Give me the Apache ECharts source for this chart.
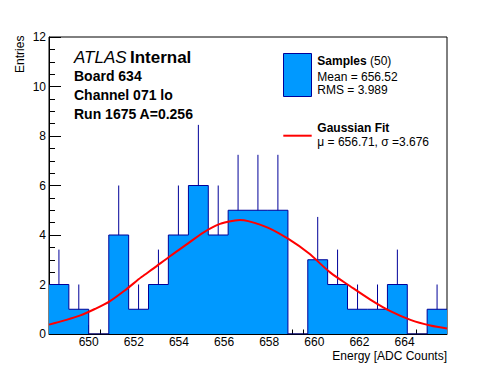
<!DOCTYPE html>
<html>
<head>
<meta charset="utf-8">
<script src="https://cdn.jsdelivr.net/npm/echarts@6/dist/echarts.min.js"></script>
<style>
html,body{margin:0;padding:0;background:#fff;}
#chart{width:496px;height:372px;}
</style>
</head>
<body>
<div id="chart"></div>
<script>
// ---- data ----
const binEdges = [648.24, 649.12, 650.00, 650.89, 651.77, 652.65, 653.53, 654.42, 655.30, 656.18,
                  657.06, 657.94, 658.83, 659.71, 660.59, 661.47, 662.36, 663.24, 664.12, 665.00, 665.88];
const counts = [2, 1, 0, 4, 1, 2, 4, 6, 4, 5, 5, 5, 0, 3, 2, 1, 1, 2, 0, 1];
const errors = [1.41, 1, 0, 2, 1, 1.41, 2, 2.45, 2, 2.24, 2.24, 2.24, 0, 1.73, 1.41, 1, 1, 1.41, 0, 1];
const fitX = [648.24, 648.93, 649.60, 650.27, 650.93, 651.60, 652.34, 652.86, 653.60, 654.34, 655.08,
              655.82, 656.48, 656.70, 657.07, 657.96, 658.85, 659.74, 660.70, 661.59, 662.48, 663.37,
              664.26, 665.14, 665.88];
const fitY = [0.38, 0.55, 0.74, 1.01, 1.32, 1.76, 2.30, 2.64, 3.14, 3.62, 4.10,
              4.45, 4.59, 4.61, 4.56, 4.29, 3.84, 3.27, 2.49, 1.93, 1.39, 0.92,
              0.57, 0.34, 0.22];
const xTickLabels = [650, 652, 654, 656, 658, 660, 662, 664];
const xMinorTicks = [648.5, 649, 649.5, 650, 650.5, 651, 651.5, 652, 652.5, 653, 653.5, 654, 654.5, 655,
                     655.5, 656, 656.5, 657, 657.5, 658, 658.5, 659, 659.5, 660, 660.5, 661, 661.5, 662,
                     662.5, 663, 663.5, 664, 664.5, 665, 665.5];
const xRange = [648.24, 665.88];
const yRange = [0, 12];
const yStep = 2;
const sampleCount = 50;
const meanText = 'Mean = 656.52';
const rmsText = 'RMS = 3.989';
const fitText = 'μ = 656.71, σ =3.676';

// ---- build ----
const FILL = '#0099ff', EDGE = '#000099', FONT = '"Liberation Sans", Arial, Helvetica, sans-serif';

const binData = counts.map((c, i) => [binEdges[i], binEdges[i + 1], c, errors[i]]);
const outline = counts.map((c, i) => [binEdges[i], c]);
outline.push([binEdges[binEdges.length - 1], counts[counts.length - 1]]);
const fitData = fitX.map((x, i) => [x, fitY[i]]);

const chart = echarts.init(document.getElementById('chart'), null, {renderer: 'svg'});

const option = {
  animation: false,
  backgroundColor: '#fff',
  textStyle: {fontFamily: FONT},
  grid: {left: 49, right: 49, top: 37, bottom: 38, show: true, borderColor: '#000', borderWidth: 1,
         backgroundColor: 'transparent', outerBoundsMode: 'none'},
  xAxis: [{
    type: 'value', min: xRange[0], max: xRange[1],
    axisLine: {show: true, onZero: false, lineStyle: {color: '#000', width: 1}},
    axisTick: {show: true, inside: true, length: 9, customValues: xTickLabels, lineStyle: {color: '#000'}},
    axisLabel: {show: true, customValues: xTickLabels, margin: 2, fontSize: 12, color: '#000', fontFamily: FONT},
    splitLine: {show: false}
  }, {
    type: 'value', min: xRange[0], max: xRange[1], position: 'bottom',
    axisLine: {show: false},
    axisTick: {show: true, inside: true, length: 4.5, customValues: xMinorTicks, lineStyle: {color: '#000'}},
    axisLabel: {show: false},
    splitLine: {show: false}
  }],
  yAxis: {
    type: 'value', min: yRange[0], max: yRange[1], interval: yStep,
    axisLine: {show: true, onZero: false, lineStyle: {color: '#000', width: 1}},
    axisTick: {show: true, inside: true, length: 12, lineStyle: {color: '#000'}},
    minorTick: {show: true, splitNumber: 4, length: 6, lineStyle: {color: '#000'}},
    axisLabel: {margin: 3, fontSize: 12, color: '#000', fontFamily: FONT},
    splitLine: {show: false}
  },
  series: [
    {
      type: 'line', name: 'Samples', xAxisIndex: 0, yAxisIndex: 0, z: 3,
      data: outline, step: 'end', symbol: 'none',
      lineStyle: {color: EDGE, width: 1},
      areaStyle: {color: FILL, opacity: 1, origin: 'start'}
    },
    {
      type: 'custom', name: 'errors', xAxisIndex: 0, yAxisIndex: 0, z: 4,
      data: binData,
      encode: {x: [0, 1], y: 2},
      renderItem: function (params, api) {
        const lo = api.value(0), hi = api.value(1), c = api.value(2), e = api.value(3);
        if (!c || !e) return null;
        const xc = (lo + hi) / 2;
        const a = api.coord([xc, c]), b = api.coord([xc, c + e]);
        return {type: 'line', shape: {x1: a[0], y1: a[1], x2: b[0], y2: b[1]},
                style: {stroke: EDGE, lineWidth: 1}};
      }
    },
    {
      type: 'line', name: 'Gaussian Fit', xAxisIndex: 0, yAxisIndex: 0, z: 5,
      data: fitData, smooth: 0.3, symbol: 'none',
      lineStyle: {color: '#ff0000', width: 2}
    }
  ],
  graphic: [
    {type: 'text', x: 19.5, y: 54.3, rotation: Math.PI / 2,
     style: {text: 'Entries', fill: '#000', font: '12px ' + FONT, align: 'center', verticalAlign: 'middle'}},
    {type: 'text', x: 447, y: 355.8,
     style: {text: 'Energy [ADC Counts]', fill: '#000', font: '12px ' + FONT, align: 'right', verticalAlign: 'middle'}},
    {type: 'text', x: 74, y: 57.3,
     style: {text: '{i|ATLAS} {b|Internal}', fill: '#000', verticalAlign: 'middle',
             rich: {i: {fontStyle: 'italic', fontSize: 17, fontFamily: FONT},
                    b: {fontWeight: 'bold', fontSize: 17, fontFamily: FONT}}}},
    {type: 'text', x: 74, y: 75.8,
     style: {text: 'Board 634', fill: '#000', font: 'bold 14px ' + FONT, verticalAlign: 'middle'}},
    {type: 'text', x: 74, y: 95.1,
     style: {text: 'Channel 071 lo', fill: '#000', font: 'bold 14px ' + FONT, verticalAlign: 'middle'}},
    {type: 'text', x: 74, y: 113.8,
     style: {text: 'Run 1675 A=0.256', fill: '#000', font: 'bold 14px ' + FONT, verticalAlign: 'middle'}},
    // legend
    {type: 'rect', shape: {x: 283.5, y: 53.5, width: 28, height: 43},
     style: {fill: FILL, stroke: EDGE, lineWidth: 1}},
    {type: 'text', x: 317.3, y: 60.8,
     style: {text: '{b|Samples} {r|(' + sampleCount + ')}', fill: '#000', verticalAlign: 'middle',
             rich: {b: {fontWeight: 'bold', fontSize: 12, fontFamily: FONT},
                    r: {fontSize: 12, fontFamily: FONT}}}},
    {type: 'text', x: 317.3, y: 76.8,
     style: {text: meanText, fill: '#000', font: '12px ' + FONT, verticalAlign: 'middle'}},
    {type: 'text', x: 317.3, y: 89.5,
     style: {text: rmsText, fill: '#000', font: '12px ' + FONT, verticalAlign: 'middle'}},
    {type: 'line', shape: {x1: 283.3, y1: 135.7, x2: 311.7, y2: 135.7},
     style: {stroke: '#ff0000', lineWidth: 2}},
    {type: 'text', x: 317.3, y: 128.1,
     style: {text: 'Gaussian Fit', fill: '#000', font: 'bold 12px ' + FONT, verticalAlign: 'middle'}},
    {type: 'text', x: 317.3, y: 141.8,
     style: {text: fitText, fill: '#000', font: '12px ' + FONT, verticalAlign: 'middle'}}
  ]
};
chart.setOption(option);
</script>
</body>
</html>
